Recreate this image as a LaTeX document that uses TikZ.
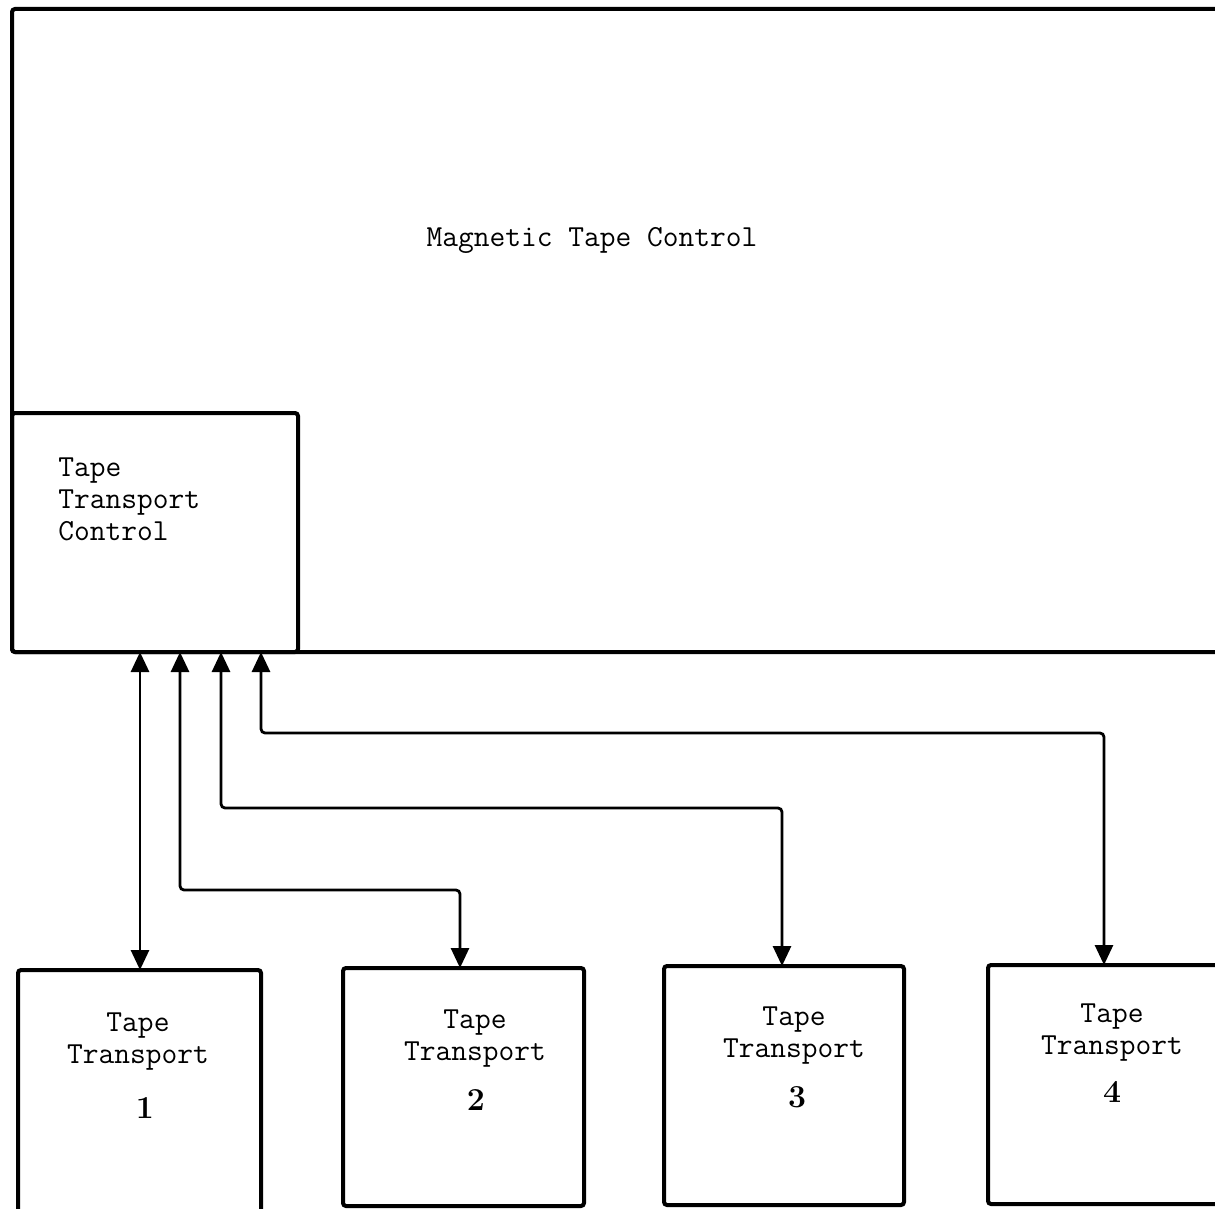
\documentclass[tikz,border=0pt]{standalone}
\usepackage{fontspec}
\usetikzlibrary{arrows.meta,fit}
\begin{document}
\begin{tikzpicture}[x=0.5pt,y=-0.5pt,
  frame/.style={inner sep=0pt,outer sep=0pt,draw=none},
  edge/.style={line width=2pt,rounded corners=1.5pt,line cap=rect},
  conn/.style={line width=1.4pt,rounded corners=2pt},
  tip/.tip={Triangle[length=10pt,width=9pt]},
  tt/.style={font=\fontsize{15.3}{16}\selectfont\ttfamily,align=center,inner sep=0pt},
  num/.style={font=\fontsize{16}{18}\selectfont\bfseries,inner sep=0pt}]
\useasboundingbox (0,0) rectangle (1215,1209);

% Magnetic Tape Control (open on the right)
\node[frame,fit={(12,9) (1215,652)}] (mtc) {};
\draw[edge] (mtc.north east) -- (mtc.north west) -- (mtc.south west) -- (mtc.south east);
\node[tt] (mtclabel) at (592,240) {Magnetic Tape Control};

% Tape Transport Control
\node[frame,fit={(12,413) (298,652)}] (ttc) {};
\draw[edge] (ttc.north west) rectangle (ttc.south east);
\node[tt,align=left,anchor=west] (ttclabel) at (58,499) {Tape\\Transport\\Control};

% Tape transports
\node[frame,fit={(18,970) (261,1212)}] (tt1) {};
\draw[edge] (tt1.south west) -- (tt1.north west) -- (tt1.north east) -- (tt1.south east);
\node[frame,fit={(343,968) (584,1206)}] (tt2) {};
\draw[edge] (tt2.north west) rectangle (tt2.south east);
\node[frame,fit={(664,966) (904,1205)}] (tt3) {};
\draw[edge] (tt3.north west) rectangle (tt3.south east);
\node[frame,fit={(988,965) (1218,1204)}] (tt4) {};
\draw[edge] (tt4.north east) -- (tt4.north west) -- (tt4.south west) -- (tt4.south east);

\node[tt] (l1) at (138,1042) {Tape\\Transport};
\node[num] (n1) at (145,1108) {1};
\node[tt] (l2) at (475,1039) {Tape\\Transport};
\node[num] (n2) at (476,1100) {2};
\node[tt] (l3) at (794,1036) {Tape\\Transport};
\node[num] (n3) at (797,1097) {3};
\node[tt] (l4) at (1112,1033) {Tape\\Transport};
\node[num] (n4) at (1112,1092) {4};

% connectors
\coordinate (x1) at (140,0);
\coordinate (x2) at (180,0);
\coordinate (x3) at (221,0);
\coordinate (x4) at (261,0);
\coordinate (k2) at (460,890);
\coordinate (k3) at (782,808);
\coordinate (k4) at (1104,733);

\draw[conn,tip-tip] (ttc.south -| x1) -- (tt1.north -| x1);
\draw[conn,tip-tip] (ttc.south -| x2) |- (k2) -- (tt2.north -| k2);
\draw[conn,tip-tip] (ttc.south -| x3) |- (k3) -- (tt3.north -| k3);
\draw[conn,tip-tip] (ttc.south -| x4) |- (k4) -- (tt4.north -| k4);
\end{tikzpicture}
\end{document}
